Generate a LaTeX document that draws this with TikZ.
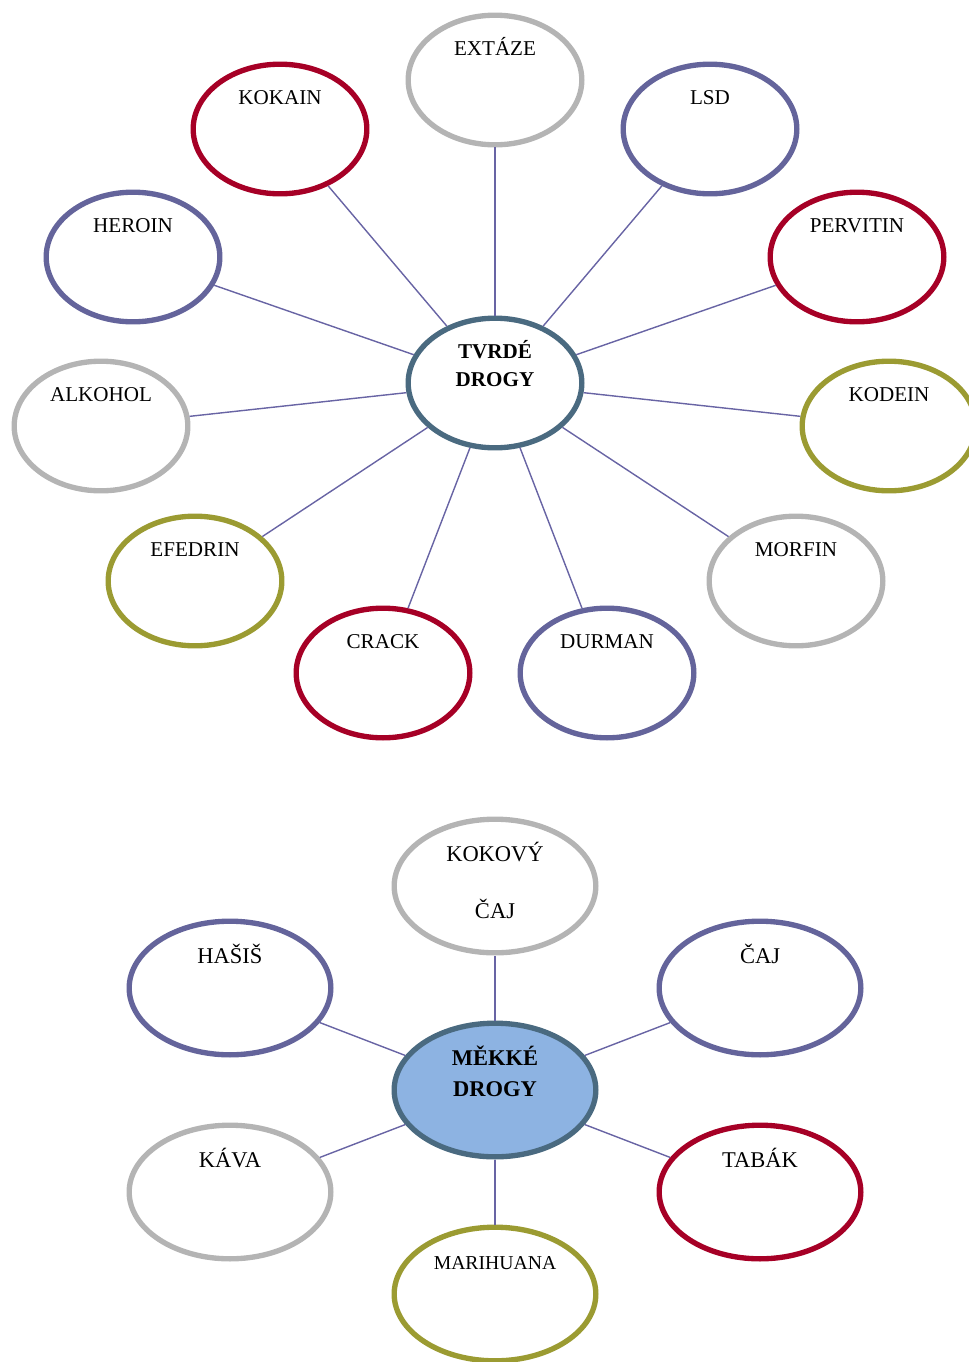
\documentclass[tikz,border=0pt]{standalone}
\usepackage{fontspec}
\setmainfont{Liberation Serif}
\usepackage{tikz}
\usetikzlibrary{shapes}
\definecolor{drugred}{RGB}{166,0,38}
\definecolor{drugblue}{RGB}{100,100,155}
\definecolor{druggray}{RGB}{180,180,180}
\definecolor{drugolive}{RGB}{155,155,50}
\definecolor{hubline}{RGB}{74,106,128}
\definecolor{hubfill}{RGB}{141,179,226}
\definecolor{linkline}{RGB}{104,100,164}
\tikzset{drug node/.style={ellipse,draw,fill=white,line width=3.8pt,minimum width=4.34cm,minimum height=3.24cm,inner sep=0pt,font=\fontsize{15}{18}\selectfont},
  soft node/.style={drug node,minimum width=5.04cm,minimum height=3.34cm,font=\fontsize{16}{19}\selectfont},}
\newcommand{\toplabel}[1]{\raisebox{0.62cm}[0pt][0pt]{\begin{tabular}[t]{@{}c@{}}#1\end{tabular}}}

\begin{document}
\begin{tikzpicture}[x=0.025cm, y=-0.025cm]
	\useasboundingbox (0,0) rectangle (968,1362);
	% hard drugs
	\node[drug node, draw=hubline] (hard) at (495,383) {\toplabel{\textbf{TVRDÉ}\\[2pt]\textbf{DROGY}}};
	\node[drug node, draw=druggray] (extaze) at (495,80) {\toplabel{EXTÁZE}};
	\node[drug node, draw=drugred] (kokain) at (280,129) {\toplabel{KOKAIN}};
	\node[drug node, draw=drugblue] (lsd) at (710,129) {\toplabel{LSD}};
	\node[drug node, draw=drugblue] (heroin) at (133,257) {\toplabel{HEROIN}};
	\node[drug node, draw=drugred] (pervitin) at (857,257) {\toplabel{PERVITIN}};
	\node[drug node, draw=druggray] (alkohol) at (101,426) {\toplabel{ALKOHOL}};
	\node[drug node, draw=drugolive] (kodein) at (889,426) {\toplabel{KODEIN}};
	\node[drug node, draw=drugolive] (efedrin) at (195,581) {\toplabel{EFEDRIN}};
	\node[drug node, draw=druggray] (morfin) at (796,581) {\toplabel{MORFIN}};
	\node[drug node, draw=drugred] (crack) at (383,673) {\toplabel{CRACK}};
	\node[drug node, draw=drugblue] (durman) at (607,673) {\toplabel{DURMAN}};

	\path[draw=linkline, line width=1pt]
	(hard) edge (extaze)
	(hard) edge (kokain)
	(hard) edge (lsd)
	(hard) edge (heroin)
	(hard) edge (pervitin)
	(hard) edge (alkohol)
	(hard) edge (kodein)
	(hard) edge (efedrin)
	(hard) edge (morfin)
	(hard) edge (crack)
	(hard) edge (durman);

	% soft drugs
	\node[soft node, draw=hubline, fill=hubfill] (soft) at (495,1090) {\toplabel{\textbf{MĚKKÉ}\\[3.5pt]\textbf{DROGY}}};
	\node[soft node, draw=druggray] (kokovy) at (495,886) {\toplabel{KOKOVÝ\\[2pt]\\ČAJ}};
	\node[soft node, draw=drugblue] (hasis) at (230,988) {\toplabel{HAŠIŠ}};
	\node[soft node, draw=drugblue] (caj) at (760,988) {\toplabel{ČAJ}};
	\node[soft node, draw=druggray] (kava) at (230,1192) {\toplabel{KÁVA}};
	\node[soft node, draw=drugred] (tabak) at (760,1192) {\toplabel{TABÁK}};
	\node[soft node, draw=drugolive, font=\fontsize{14}{17}\selectfont] (marihuana) at (495,1294) {\toplabel{MARIHUANA}};

	\path[draw=linkline, line width=1pt]
	(soft) edge (kokovy)
	(soft) edge (hasis)
	(soft) edge (caj)
	(soft) edge (kava)
	(soft) edge (tabak)
	(soft) edge (marihuana);
\end{tikzpicture}
\end{document}
